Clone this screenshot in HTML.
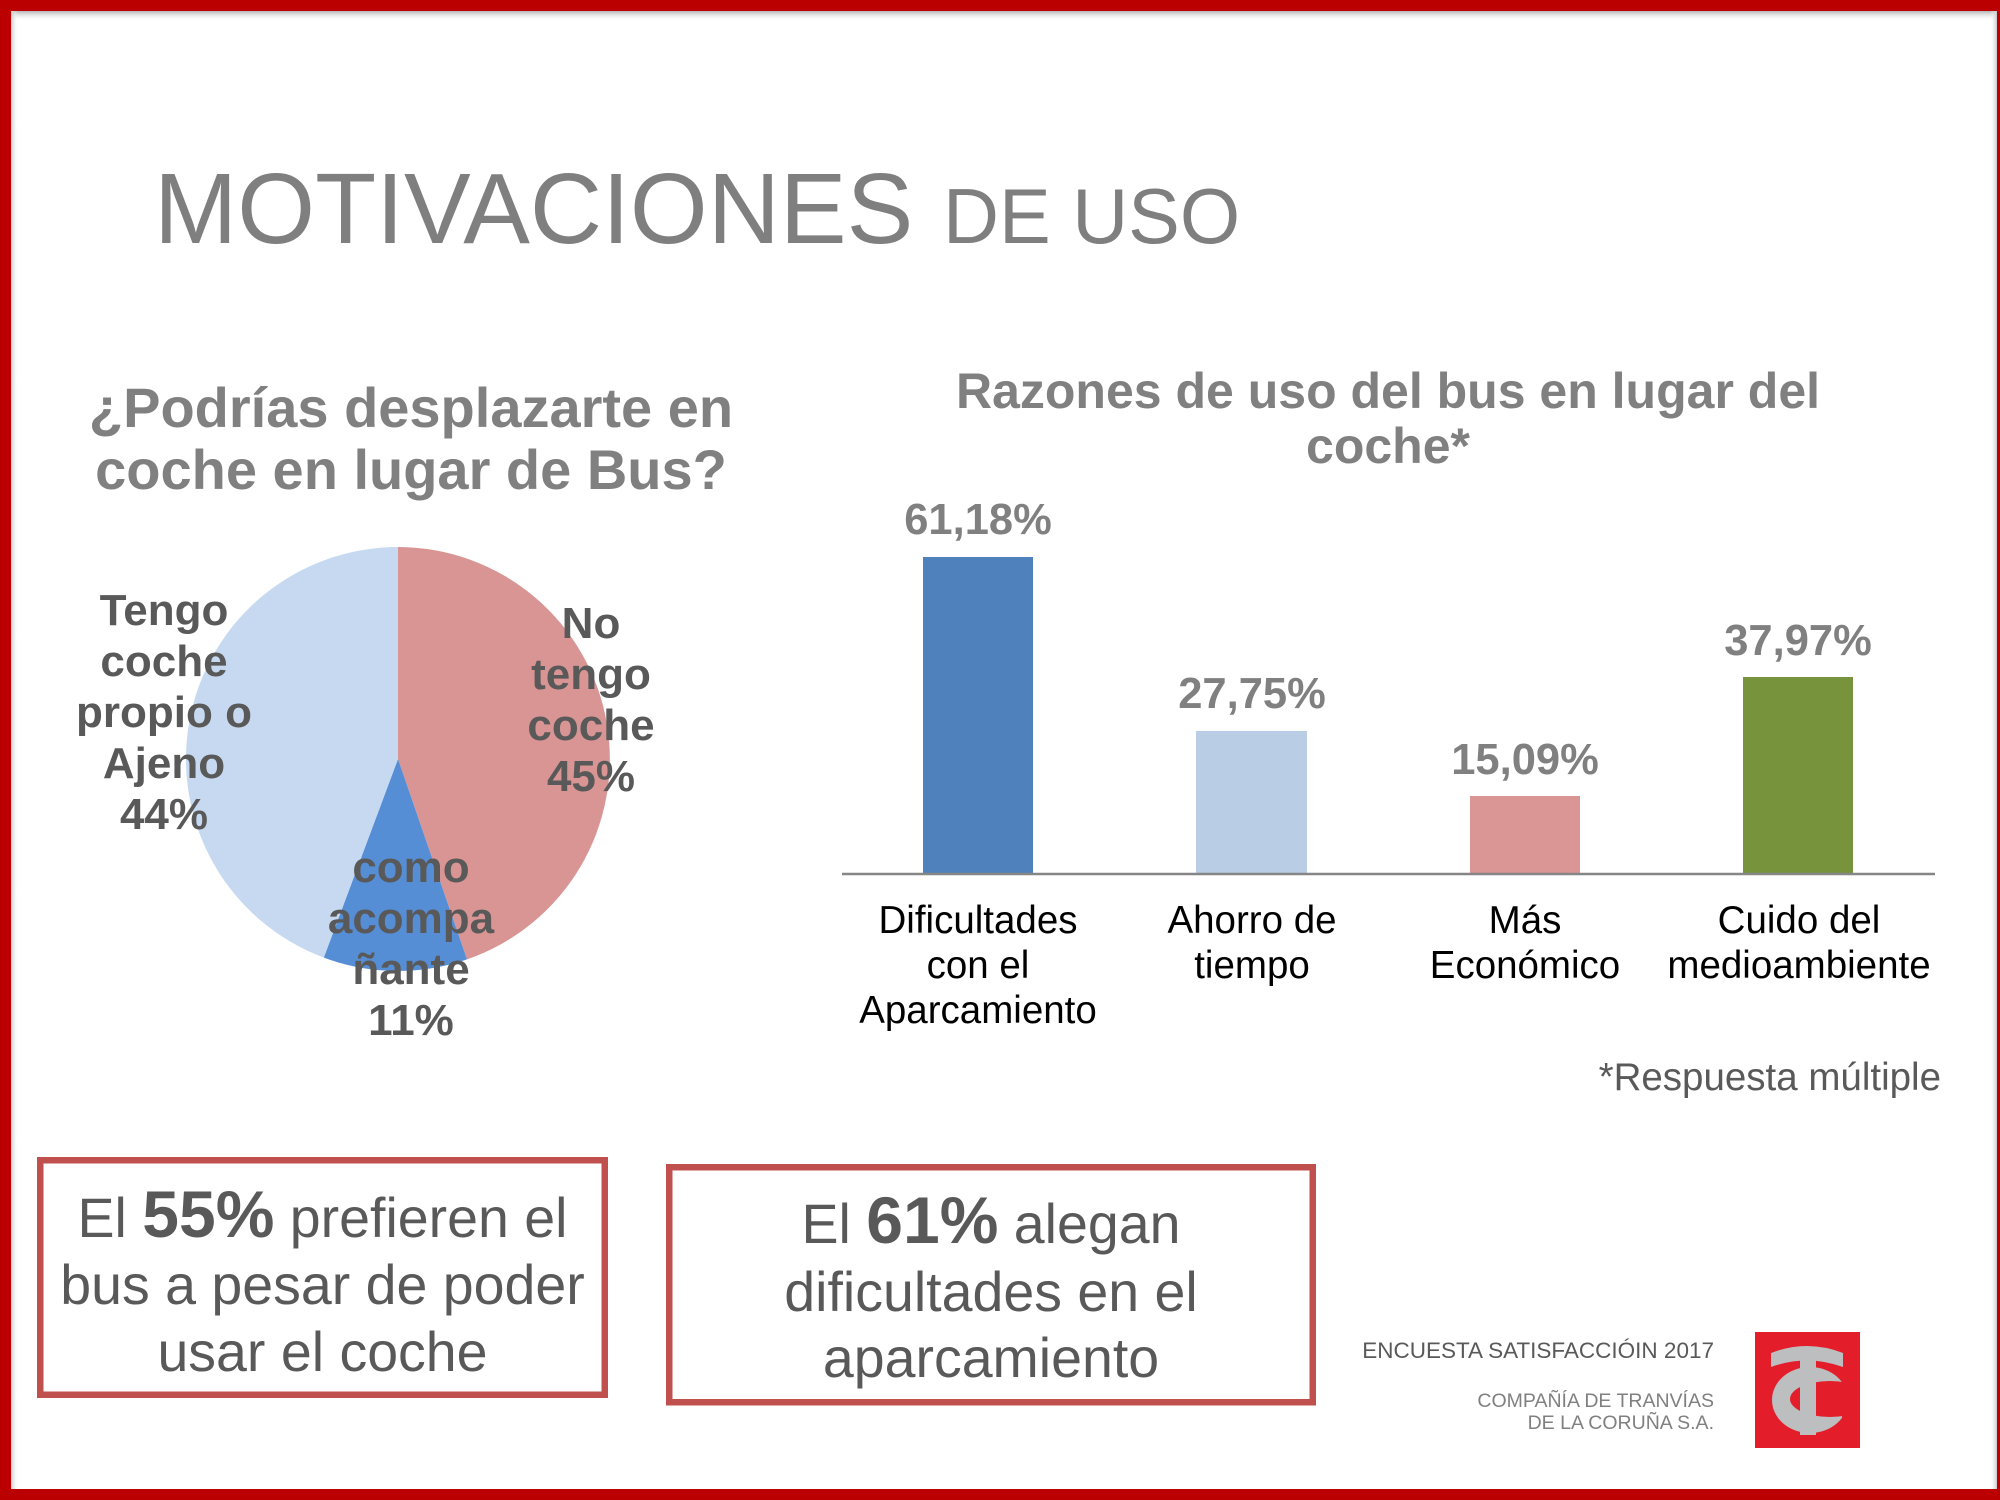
<!DOCTYPE html>
<html>
<head>
<meta charset="utf-8">
<style>
  html,body{margin:0;padding:0;background:#fff;}
  body{width:2000px;height:1500px;overflow:hidden;}
  svg{display:block;}
  text{font-family:"Liberation Sans", Arial, sans-serif;}
</style>
</head>
<body>
<svg width="2000" height="1500" viewBox="0 0 2000 1500" xmlns="http://www.w3.org/2000/svg">
  <defs>
    <linearGradient id="shT" x1="0" y1="0" x2="0" y2="1">
      <stop offset="0" stop-color="#b4b4b4"/>
      <stop offset="1" stop-color="#ffffff" stop-opacity="0"/>
    </linearGradient>
    <linearGradient id="shL" x1="0" y1="0" x2="1" y2="0">
      <stop offset="0" stop-color="#c8c8c8"/>
      <stop offset="1" stop-color="#ffffff" stop-opacity="0"/>
    </linearGradient>
    <linearGradient id="shR" x1="1" y1="0" x2="0" y2="0">
      <stop offset="0" stop-color="#c8c8c8"/>
      <stop offset="1" stop-color="#ffffff" stop-opacity="0"/>
    </linearGradient>
    <clipPath id="logoClip">
      <rect x="1755" y="1332" width="105" height="116"/>
    </clipPath>
  </defs>

  <!-- background -->
  <rect x="0" y="0" width="2000" height="1500" fill="#ffffff"/>
  <!-- inner shadows -->
  <rect x="11" y="11" width="1986" height="10" fill="url(#shT)"/>
  <rect x="11" y="11" width="7" height="1478" fill="url(#shL)"/>
  <rect x="1990" y="11" width="7" height="1478" fill="url(#shR)"/>
  <!-- frame -->
  <rect x="0" y="0" width="2000" height="11" fill="#BA0000"/>
  <rect x="0" y="0" width="11" height="1500" fill="#BA0000"/>
  <rect x="1997" y="0" width="3" height="1500" fill="#BA0000"/>
  <rect x="0" y="1489" width="2000" height="11" fill="#BA0000"/>

  <!-- Title -->
  <text x="154" y="243" font-size="100" fill="#7F7F7F">MOTIVACIONES</text>
  <text x="943" y="243" font-size="77.5" fill="#7F7F7F">DE USO</text>

  <!-- Pie title -->
  <text x="411" y="427" font-size="56" font-weight="bold" fill="#808080" text-anchor="middle">¿Podrías desplazarte en</text>
  <text x="411" y="489" font-size="56" font-weight="bold" fill="#808080" text-anchor="middle">coche en lugar de Bus?</text>

  <!-- Pie -->
  <path d="M398,759 L398,547 A212,212 0 0 1 467.0,959.4 Z" fill="#D99594"/>
  <path d="M398,759 L467.0,959.4 A212,212 0 0 1 323.8,957.6 Z" fill="#558ED5"/>
  <path d="M398,759 L323.8,957.6 A212,212 0 0 1 398,547 Z" fill="#C6D9F1"/>

  <!-- Pie labels -->
  <g font-size="44" font-weight="bold" fill="#595959" text-anchor="middle">
    <text x="164" y="625">Tengo</text>
    <text x="164" y="676">coche</text>
    <text x="164" y="727">propio o</text>
    <text x="164" y="778">Ajeno</text>
    <text x="164" y="829">44%</text>

    <text x="591" y="638">No</text>
    <text x="591" y="689">tengo</text>
    <text x="591" y="740">coche</text>
    <text x="591" y="791">45%</text>

    <text x="411" y="882">como</text>
    <text x="411" y="933">acompa</text>
    <text x="411" y="984">ñante</text>
    <text x="411" y="1035">11%</text>
  </g>

  <!-- Bar chart title -->
  <text x="1388" y="408" font-size="50" font-weight="bold" fill="#808080" text-anchor="middle">Razones de uso del bus en lugar del</text>
  <text x="1388" y="463" font-size="50" font-weight="bold" fill="#808080" text-anchor="middle">coche*</text>

  <!-- Bars -->
  <rect x="923" y="557" width="110" height="317" fill="#4F81BD"/>
  <rect x="1196" y="731" width="111" height="143" fill="#B9CDE5"/>
  <rect x="1470" y="796" width="110" height="78" fill="#D99694"/>
  <rect x="1743" y="677" width="110" height="197" fill="#77933C"/>
  <line x1="842" y1="874" x2="1935" y2="874" stroke="#868686" stroke-width="2.5"/>

  <!-- Value labels -->
  <g font-size="43.5" font-weight="bold" fill="#808080" text-anchor="middle">
    <text x="978" y="534">61,18%</text>
    <text x="1252" y="708">27,75%</text>
    <text x="1525" y="774">15,09%</text>
    <text x="1798" y="655">37,97%</text>
  </g>

  <!-- Category labels -->
  <g font-size="38.5" fill="#000000" text-anchor="middle">
    <text x="978" y="933">Dificultades</text>
    <text x="978" y="978">con el</text>
    <text x="978" y="1023">Aparcamiento</text>

    <text x="1252" y="933">Ahorro de</text>
    <text x="1252" y="978">tiempo</text>

    <text x="1525" y="933">Más</text>
    <text x="1525" y="978">Económico</text>

    <text x="1799" y="933">Cuido del</text>
    <text x="1799" y="978">medioambiente</text>
  </g>

  <text x="1941" y="1090" font-size="38.5" fill="#595959" text-anchor="end">*Respuesta múltiple</text>

  <!-- Box 1 -->
  <rect x="40.25" y="1160.25" width="564.5" height="234.5" fill="none" stroke="#C0504D" stroke-width="6.5"/>
  <g fill="#595959" text-anchor="middle" font-size="55.5">
    <text x="322.5" y="1237">El <tspan font-weight="bold" font-size="66">55%</tspan> prefieren el</text>
    <text x="322.5" y="1304">bus a pesar de poder</text>
    <text x="322.5" y="1371">usar el coche</text>
  </g>

  <!-- Box 2 -->
  <rect x="669.25" y="1167.25" width="643.5" height="235" fill="none" stroke="#C0504D" stroke-width="6.5"/>
  <g fill="#595959" text-anchor="middle" font-size="55.5">
    <text x="991" y="1243">El <tspan font-weight="bold" font-size="66">61%</tspan> alegan</text>
    <text x="991" y="1311">dificultades en el</text>
    <text x="991" y="1377">aparcamiento</text>
  </g>

  <!-- Footer -->
  <text x="1714" y="1358" font-size="22.5" fill="#595959" text-anchor="end">ENCUESTA SATISFACCIÓIN 2017</text>
  <text x="1714" y="1407" font-size="19.5" fill="#808080" text-anchor="end">COMPAÑÍA DE TRANVÍAS</text>
  <text x="1714" y="1429" font-size="19.5" fill="#808080" text-anchor="end">DE LA CORUÑA S.A.</text>

  <!-- Logo -->
  <g clip-path="url(#logoClip)">
    <rect x="1755" y="1332" width="105" height="116" fill="#E31E2A"/>
    <ellipse cx="1810" cy="1400" rx="38" ry="33" fill="#BCBEC0"/>
    <ellipse cx="1830" cy="1399" rx="40" ry="18" fill="#E31E2A"/>
    <rect x="1842" y="1360" width="18" height="80" fill="#E31E2A"/>
    <rect x="1800" y="1358" width="16" height="77" fill="#BCBEC0"/>
    <path d="M1771,1367 L1771,1353 Q1807,1339 1843,1353 L1843,1367 Q1807,1354 1771,1367 Z" fill="#BCBEC0"/>
  </g>
</svg>
</body>
</html>
